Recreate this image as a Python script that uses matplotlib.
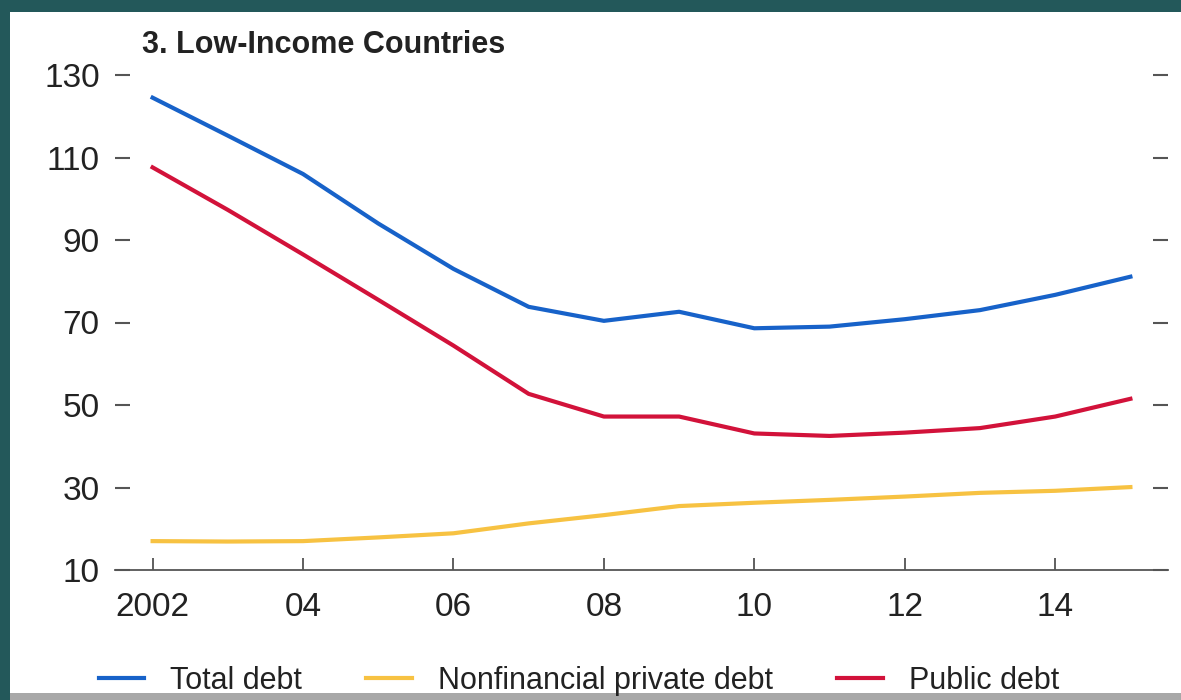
import matplotlib.pyplot as plt
from matplotlib.patches import Rectangle

# data (percent of GDP)
years = [2002, 2003, 2004, 2005, 2006, 2007, 2008, 2009, 2010, 2011, 2012, 2013, 2014, 2015]
total_debt = [124.5, 115.3, 106.0, 94.0, 83.0, 73.8, 70.4, 72.6, 68.6, 69.0, 70.8, 73.0, 76.7, 81.1]
private_debt = [17.0, 16.9, 17.0, 17.9, 18.9, 21.3, 23.3, 25.5, 26.3, 27.0, 27.8, 28.7, 29.2, 30.1]
public_debt = [107.6, 97.3, 86.5, 75.5, 64.4, 52.7, 47.2, 47.2, 43.1, 42.5, 43.3, 44.4, 47.2, 51.5]
xtick_pos = [2002, 2004, 2006, 2008, 2010, 2012, 2014]
xtick_labels = ['2002', '04', '06', '08', '10', '12', '14']
ytick_pos = [10, 30, 50, 70, 90, 110, 130]

plt.rcParams['font.family'] = ['Liberation Sans', 'DejaVu Sans']

W, H = 1181, 700
fig = plt.figure(figsize=(W / 100, H / 100), dpi=100, facecolor='#23585a')

# white panel inside the teal frame
fig.patches.append(Rectangle((10 / W, 1 - 693 / H), (W - 10) / W, (693 - 12) / H,
                             transform=fig.transFigure, facecolor='white',
                             edgecolor='none', zorder=-2))
fig.patches.append(Rectangle((10 / W, 1 - 700 / H), (W - 10) / W, 7 / H,
                             transform=fig.transFigure, facecolor='#a8a8a8',
                             edgecolor='none', zorder=-2))

ax = fig.add_axes([115 / W, 1 - 570 / H, (1168 - 115) / W, (570 - 75) / H])
ax.set_zorder(2)
ax.set_facecolor('none')

ax.plot(years, total_debt, color='#1762c9', lw=3, label='Total debt')
ax.plot(years, private_debt, color='#f7c242', lw=3, label='Nonfinancial private debt')
ax.plot(years, public_debt, color='#d2123a', lw=3, label='Public debt')

ax.set_xlim(2001.5, 2015.5)
ax.set_ylim(10, 130)
ax.set_xticks(xtick_pos)
ax.set_xticklabels(xtick_labels)
ax.set_yticks(ytick_pos)

for s in ['top', 'left', 'right']:
    ax.spines[s].set_visible(False)
ax.spines['bottom'].set_color('#555555')
ax.spines['bottom'].set_linewidth(1.3)

ax.tick_params(axis='x', direction='in', length=8.5, width=1.2, color='#444444',
               labelsize=24, pad=16, labelcolor='#222222')
ax.tick_params(axis='y', direction='in', length=11, width=1.5, color='#555555',
               labelsize=24, pad=11, labelcolor='#222222', right=True)

fig.text(142 / W, 1 - 45 / H, '3. Low-Income Countries', fontsize=22,
         fontweight='bold', color='#222222', va='center', ha='left')

fig.legend(loc='center', bbox_to_anchor=(579 / W, 1 - 681 / H), ncol=3,
           frameon=False, fontsize=22, handlelength=1.5, handletextpad=0.85,
           columnspacing=2.1, labelcolor='#222222')

fig.savefig('out.png', dpi=100, facecolor=fig.get_facecolor())
